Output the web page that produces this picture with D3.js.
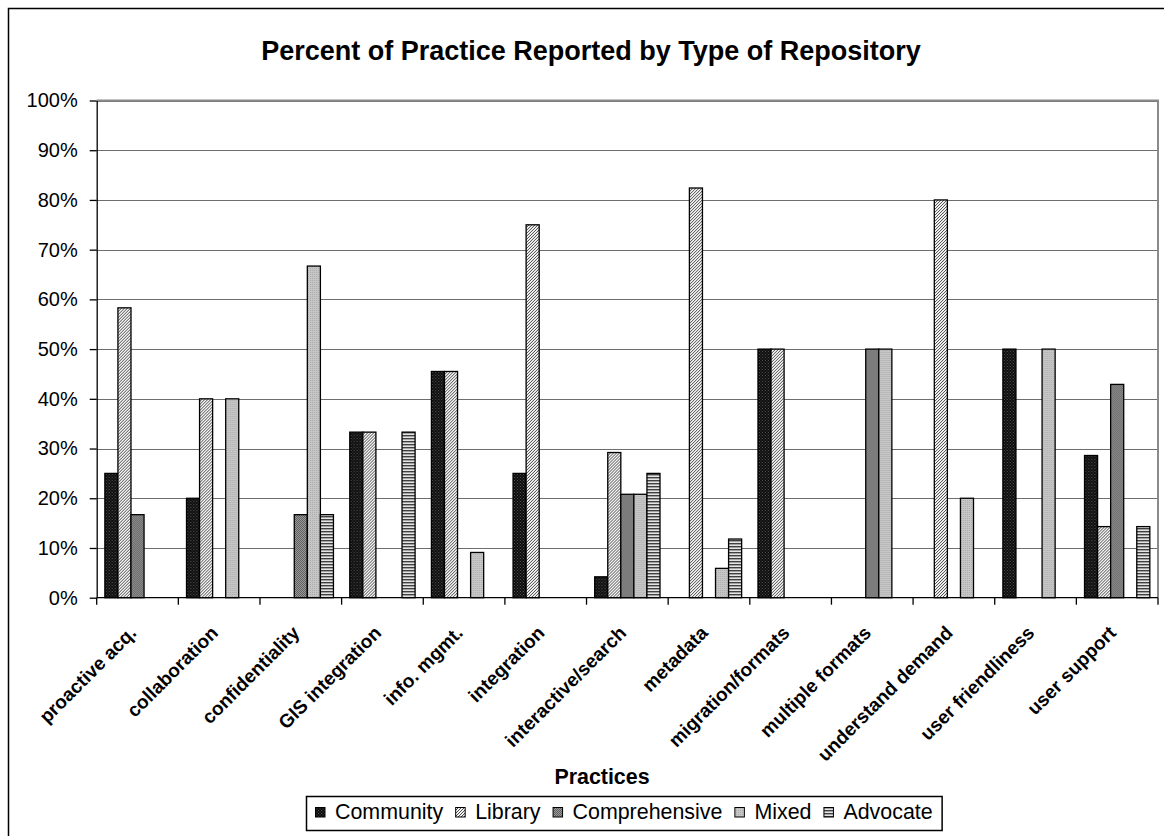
<!DOCTYPE html>
<html>
<head>
<meta charset="utf-8">
<script src="https://cdn.jsdelivr.net/npm/d3@7/dist/d3.min.js"></script>
<style>
  html, body { margin: 0; padding: 0; background: #fff; }
  svg { display: block; font-family: Arial, "Liberation Sans", sans-serif; }
</style>
</head>
<body>
<svg id="chart" width="1164" height="836"></svg>
<script>
// Practices on the x axis, one group of five bars each
const categories = [
  "proactive acq.", "collaboration", "confidentiality", "GIS integration",
  "info. mgmt.", "integration", "interactive/search", "metadata",
  "migration/formats", "multiple formats", "understand demand",
  "user friendliness", "user support"
];
const seriesNames = ["Community", "Library", "Comprehensive", "Mixed", "Advocate"];

// Percent of repositories of each type reporting the practice
const community     = [25.0, 20.0,  0.0, 33.3, 45.5, 25.0,  4.2,  0.0, 50.0,  0.0,  0.0, 50.0, 28.6];
const library       = [58.3, 40.0,  0.0, 33.3, 45.5, 75.0, 29.2, 82.4, 50.0,  0.0, 80.0,  0.0, 14.3];
const comprehensive = [16.7,  0.0, 16.7,  0.0,  0.0,  0.0, 20.8,  0.0,  0.0, 50.0,  0.0,  0.0, 42.9];
const mixed         = [ 0.0, 40.0, 66.7,  0.0,  9.1,  0.0, 20.8,  5.9,  0.0, 50.0, 20.0, 50.0,  0.0];
const advocate      = [ 0.0,  0.0, 16.7, 33.3,  0.0,  0.0, 25.0, 11.8,  0.0,  0.0,  0.0,  0.0, 14.3];

const yTicks = [0, 10, 20, 30, 40, 50, 60, 70, 80, 90, 100];

const seriesValues = [community, library, comprehensive, mixed, advocate];
const patternIds = ["pat-community", "pat-library", "pat-comprehensive", "pat-mixed", "pat-advocate"];

const svg = d3.select("#chart");

// ---- fill patterns ----
const defs = svg.append("defs");
function pattern(id, w, h, bg, pixels, color) {
  const p = defs.append("pattern").attr("id", id)
    .attr("patternUnits", "userSpaceOnUse").attr("width", w).attr("height", h);
  p.append("rect").attr("width", w).attr("height", h).attr("fill", bg);
  pixels.forEach(([x, y]) => p.append("rect").attr("x", x).attr("y", y)
    .attr("width", 1).attr("height", 1).attr("fill", color));
}
pattern("pat-community", 3, 3, "#0a0a0a", [[0, 0], [1.5, 1.5]], "#5a5a5a");
pattern("pat-library", 3, 3, "#f4f4f4", [[2, 0], [1, 1], [0, 2]], "#4a4a4a");
pattern("pat-comprehensive", 2, 2, "#9a9a9a", [[0, 0], [1, 1]], "#5e5e5e");
pattern("pat-mixed", 2, 2, "#c6c6c6", [[0, 0]], "#acacac");
{
  const p = defs.append("pattern").attr("id", "pat-advocate")
    .attr("patternUnits", "userSpaceOnUse").attr("width", 4).attr("height", 3);
  p.append("rect").attr("width", 4).attr("height", 3).attr("fill", "#e4e4e4");
  p.append("rect").attr("y", 0).attr("width", 4).attr("height", 1.4).attr("fill", "#404040");
}

// ---- outer frame ----
svg.append("rect").attr("x", 8.5).attr("y", 8.5).attr("width", 1160).attr("height", 840)
  .attr("fill", "none").attr("stroke", "#000").attr("stroke-width", 1.5);

// ---- plot area ----
const plot = { left: 96.7, right: 1158, top: 100.5, bottom: 597.7 };

const x0 = d3.scaleBand().domain(categories).range([plot.left, plot.right]).padding(0);
const groupGap = x0.bandwidth() * 0.2;
const x1 = d3.scaleBand().domain(seriesNames)
  .range([groupGap / 2, x0.bandwidth() - groupGap / 2]).padding(0);
const y = d3.scaleLinear().domain([0, 100]).range([plot.bottom, plot.top]);

// gridlines
svg.append("g").selectAll("line").data(yTicks.filter(d => d > 0)).join("line")
  .attr("x1", plot.left).attr("x2", plot.right)
  .attr("y1", d => Math.round(y(d)) + 0.5).attr("y2", d => Math.round(y(d)) + 0.5)
  .attr("stroke", "#6e6e6e").attr("stroke-width", 1.2);

// plot border (top and right)
svg.append("path")
  .attr("d", `M${plot.left},${plot.top}H${plot.right}V${plot.bottom}`)
  .attr("fill", "none").attr("stroke", "#8a8a8a").attr("stroke-width", 2);

// bars
const groups = svg.append("g").selectAll("g").data(categories).join("g")
  .attr("transform", d => `translate(${x0(d)},0)`);
groups.selectAll("rect")
  .data((c, i) => seriesNames.map((s, k) => ({ s, k, v: seriesValues[k][i] })).filter(d => d.v > 0))
  .join("rect")
  .attr("x", d => x1(d.s))
  .attr("y", d => y(d.v))
  .attr("width", x1.bandwidth())
  .attr("height", d => y(0) - y(d.v))
  .attr("fill", d => `url(#${patternIds[d.k]})`)
  .attr("stroke", "#000").attr("stroke-width", 1.3);

// y axis
const yAxis = d3.axisLeft(y).tickValues(yTicks).tickFormat(d => d + "%")
  .tickSizeInner(7).tickSizeOuter(0).tickPadding(12);
const gy = svg.append("g").attr("transform", `translate(${plot.left},0)`).call(yAxis);
gy.select(".domain").attr("stroke", "#000").attr("stroke-width", 1.3);
gy.selectAll(".tick line").attr("stroke", "#000").attr("stroke-width", 1.3);
gy.selectAll(".tick text").attr("font-size", 20).attr("fill", "#000")
  .attr("font-family", "Arial, 'Liberation Sans', sans-serif");

// x axis: ticks between groups
const gx = svg.append("g");
gx.append("line").attr("x1", plot.left).attr("x2", plot.right)
  .attr("y1", plot.bottom).attr("y2", plot.bottom)
  .attr("stroke", "#000").attr("stroke-width", 1.3);
gx.selectAll("line.tk").data(categories.map(c => x0(c)).concat([plot.right])).join("line")
  .attr("class", "tk")
  .attr("x1", d => d).attr("x2", d => d)
  .attr("y1", plot.bottom).attr("y2", plot.bottom + 7)
  .attr("stroke", "#000").attr("stroke-width", 1.3);
gx.selectAll("text").data(categories).join("text")
  .attr("transform", d => `translate(${x0(d) + x0.bandwidth() / 2},634) rotate(-45)`)
  .attr("text-anchor", "end")
  .attr("font-size", 19).attr("font-weight", "bold").attr("fill", "#000")
  .text(d => d);

// title
svg.append("text").attr("x", 591).attr("y", 60).attr("text-anchor", "middle")
  .attr("font-size", 27).attr("font-weight", "bold").text("Percent of Practice Reported by Type of Repository");

// x axis title
svg.append("text").attr("x", 602).attr("y", 784).attr("text-anchor", "middle")
  .attr("font-size", 21.4).attr("font-weight", "bold").text("Practices");

// legend
const legend = svg.append("g");
const legendBox = legend.append("rect")
  .attr("fill", "#fff").attr("stroke", "#000").attr("stroke-width", 1.5);
let lx = 315;
const ly = 818.5;
seriesNames.forEach((s, k) => {
  legend.append("rect").attr("x", lx + 0.5).attr("y", ly - 11).attr("width", 9.5).attr("height", 9.5)
    .attr("fill", `url(#${patternIds[k]})`).attr("stroke", "#000").attr("stroke-width", 1);
  const t = legend.append("text").attr("x", lx + 20).attr("y", ly)
    .attr("font-size", 21.4).text(s);
  lx += 20 + t.node().getComputedTextLength() + 12;
});
legendBox.attr("x", 306.5).attr("y", 796.5).attr("width", lx - 306 - 3).attr("height", 34);
</script>
</body>
</html>
